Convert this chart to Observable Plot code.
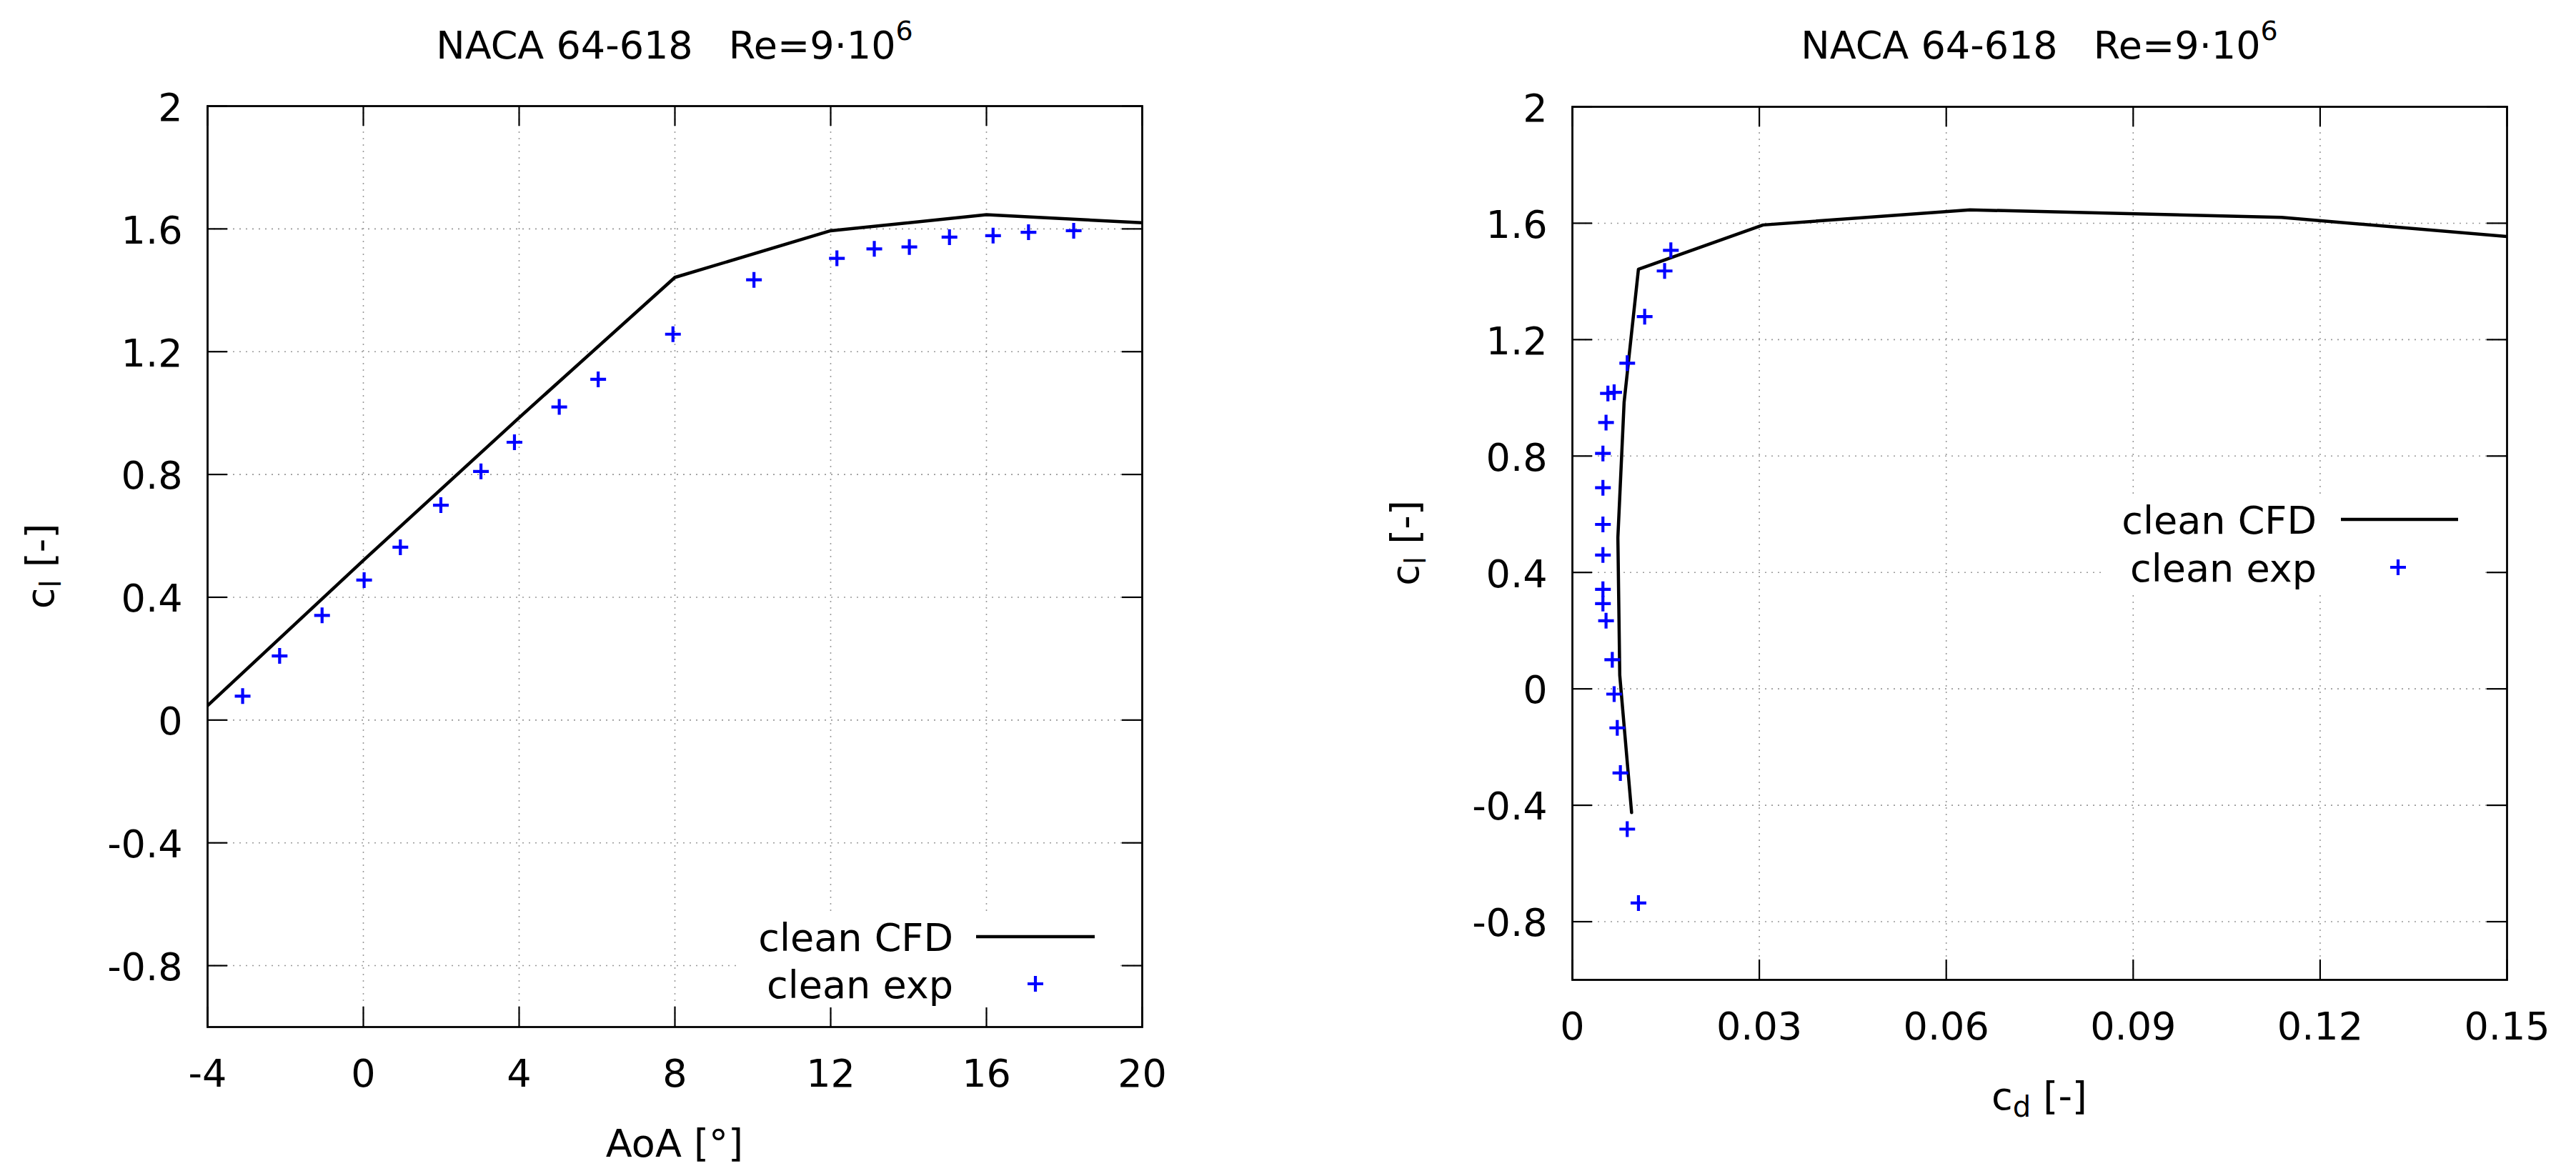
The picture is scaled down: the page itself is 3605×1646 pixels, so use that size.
<!DOCTYPE html>
<html>
<head>
<meta charset="utf-8">
<script src="https://cdn.jsdelivr.net/npm/d3@7"></script>
<script src="https://cdn.jsdelivr.net/npm/@observablehq/plot@0.6"></script>
<style>
  html, body { margin: 0; padding: 0; background: #fff; }
  #wrap { position: relative; width: 3605px; height: 1646px; overflow: hidden; background: #fff; }
  #wrap > svg { position: absolute; top: 0; }
</style>
</head>
<body>
<div id="wrap"></div>
<script>
// ---------------- data ----------------
const cfdAoA = [-8, -4, 0, 4, 8, 12, 16, 20, 24];
const cfdCl  = [-0.425, 0.047, 0.52, 0.985, 1.442, 1.594, 1.646, 1.62, 1.50];
const cfdCd  = [0.0095, 0.0076, 0.0073, 0.0083, 0.0106, 0.0306, 0.0638, 0.1138, 0.18];

const expAoA    = [-3.1, -2.15, -1.06, 0.02, 0.95, 1.99, 3.02, 3.88, 5.03, 6.03, 7.95, 10.03, 12.16, 13.12, 14.02, 15.05, 16.17, 17.08, 18.24];
const expClLift = [0.078, 0.209, 0.341, 0.456, 0.563, 0.70, 0.81, 0.905, 1.02, 1.11, 1.257, 1.434, 1.504, 1.535, 1.541, 1.573, 1.578, 1.589, 1.594];

const expClPolar = [-0.736, -0.482, -0.289, -0.134, -0.018, 0.100, 0.234, 0.293, 0.342, 0.460, 0.565, 0.691, 0.809, 0.915, 1.015, 1.019, 1.119, 1.279, 1.436, 1.507];
const expCdPolar = [0.0106, 0.0088, 0.0077, 0.0072, 0.0067, 0.0064, 0.0054, 0.0049, 0.0049, 0.0049, 0.0049, 0.0049, 0.0049, 0.0054, 0.0057, 0.0067, 0.0088, 0.0116, 0.0148, 0.0158];

const aoaTicks = [-4, 0, 4, 8, 12, 16, 20];
const cdTicks  = [0, 0.03, 0.06, 0.09, 0.12, 0.15];
const clTicks  = [-0.8, -0.4, 0, 0.4, 0.8, 1.2, 1.6, 2];

const titleMain = "NACA 64-618";
const titleRe = "Re=9·10";
const titleExp = "6";
const legendLine = "clean CFD";
const legendDots = "clean exp";

// ---------------- tables ----------------
const cfd = cfdAoA.map((a, i) => ({aoa: a, cl: cfdCl[i], cd: cfdCd[i]}));
const expLift = expAoA.map((a, i) => ({aoa: a, cl: expClLift[i]}));
const expPolar = expCdPolar.map((c, i) => ({cd: c, cl: expClPolar[i]}));

const FONT = "DejaVu Sans";
const FS = 54;
const LW = 4.5;     // CFD line width
const PW = 4.2;     // plus stroke width
const PR = 11;      // plus half-size
const plusSymbol = {
  draw(ctx, size) {
    const r = Math.sqrt(size / Math.PI);
    ctx.moveTo(-r, 0); ctx.lineTo(r, 0);
    ctx.moveTo(0, -r); ctx.lineTo(0, r);
  }
};
const fmt1 = d => String(+d.toFixed(1));
const fmt2 = d => String(+d.toFixed(2));

function panel({width, height, mt, mr, mb, ml, xKey, xDomain, xTicks, xFmt, exp}) {
  const pw = width - ml - mr, ph = height - mt - mb;
  const TL = 28;
  const grid = {stroke: "#999", strokeWidth: 1.6, strokeDasharray: "2,7"};
  const tick = {stroke: "black", strokeWidth: 2.2};
  const xInner = xTicks.filter(d => d > xDomain[0] && d < xDomain[1]);
  const yInner = clTicks.filter(d => d > -1 && d < 2);
  return Plot.plot({
    width, height,
    marginTop: mt, marginRight: mr, marginBottom: mb, marginLeft: ml,
    style: {fontFamily: FONT, fontSize: FS + "px", background: "white", color: "black"},
    x: {type: "linear", domain: xDomain},
    y: {type: "linear", domain: [-1, 2]},
    marks: [
      Plot.ruleX(xInner, {x: d => d, ...grid}),
      Plot.ruleY(yInner, {y: d => d, ...grid}),
      Plot.line(cfd, {x: xKey, y: "cl", stroke: "black", strokeWidth: LW, clip: true}),
      Plot.dot(exp, {x: xKey, y: "cl", symbol: plusSymbol, r: PR, fill: "none", stroke: "#0000ff", strokeWidth: PW, clip: true}),
      Plot.ruleX(xTicks, {x: d => d, insetTop: ph - TL, ...tick}),
      Plot.ruleX(xTicks, {x: d => d, insetBottom: ph - TL, ...tick}),
      Plot.ruleY(clTicks, {y: d => d, insetRight: pw - TL, ...tick}),
      Plot.ruleY(clTicks, {y: d => d, insetLeft: pw - TL, ...tick}),
      Plot.axisX(xTicks, {anchor: "bottom", tickSize: 0, tickPadding: 45, tickFormat: xFmt, label: null, fontSize: FS}),
      Plot.axisY(clTicks, {anchor: "left", tickSize: 0, tickPadding: 35, tickFormat: fmt1, label: null, fontSize: FS, dy: 3}),
      Plot.frame({stroke: "black", strokeWidth: 2.8})
    ]
  });
}

const wrap = document.getElementById("wrap");

const left = panel({width: 1800, height: 1646, mt: 148, mr: 202, mb: 209, ml: 290,
  xKey: "aoa", xDomain: [-4, 20], xTicks: aoaTicks, xFmt: fmt1, exp: expLift});
left.style.left = "0px";
wrap.appendChild(left);

const right = panel({width: 1805, height: 1646, mt: 149, mr: 97, mb: 275, ml: 400,
  xKey: "cd", xDomain: [0, 0.15], xTicks: cdTicks, xFmt: fmt2, exp: expPolar});
right.style.left = "1800px";
wrap.appendChild(right);

// ---------------- overlay: titles, axis labels, legends ----------------
const ov = d3.create("svg")
  .attr("width", 3605).attr("height", 1646)
  .attr("viewBox", "0 0 3605 1646")
  .style("left", "0px").style("pointer-events", "none")
  .attr("font-family", FONT).attr("font-size", FS).attr("fill", "black");

function title(cx, base) {
  const t = ov.append("text").attr("x", cx).attr("y", base).attr("text-anchor", "middle");
  t.append("tspan").text(titleMain);
  t.append("tspan").attr("dx", 50).text(titleRe);
  t.append("tspan").attr("font-size", 38).attr("dy", -26).text(titleExp);
}
title(944, 82);
title(2854, 82);

function subLabel(x, y, main, sub, tail, rotate) {
  const t = ov.append("text").attr("text-anchor", "middle")
    .attr("transform", `translate(${x},${y})` + (rotate ? " rotate(-90)" : ""));
  t.append("tspan").text(main);
  t.append("tspan").attr("font-size", 40).attr("dy", 10).text(sub);
  t.append("tspan").attr("dy", -10).style("white-space", "pre").text(tail);
}
subLabel(75, 792.5, "c", "l", " [-]", true);
subLabel(1985, 760, "c", "l", " [-]", true);
ov.append("text").attr("x", 944).attr("y", 1619).attr("text-anchor", "middle").text("AoA [°]");
subLabel(2854, 1553, "c", "d", " [-]", false);

function legend({bx0, bx1, by0, by1, textRight, r1, r2, lx1, lx2, px}) {
  ov.append("rect").attr("x", bx0).attr("y", by0).attr("width", bx1 - bx0).attr("height", by1 - by0).attr("fill", "white");
  ov.append("text").attr("x", textRight).attr("y", r1 + 20).attr("text-anchor", "end").text(legendLine);
  ov.append("text").attr("x", textRight).attr("y", r2 + 20).attr("text-anchor", "end").text(legendDots);
  ov.append("line").attr("x1", lx1).attr("x2", lx2).attr("y1", r1).attr("y2", r1)
    .attr("stroke", "black").attr("stroke-width", LW);
  ov.append("path").attr("d", `M${px - PR},${r2}H${px + PR}M${px},${r2 - PR}V${r2 + PR}`)
    .attr("stroke", "#0000ff").attr("stroke-width", PW).attr("fill", "none");
}
legend({bx0: 1030, bx1: 1563, by0: 1282, by1: 1410, textRight: 1334, r1: 1311, r2: 1377, lx1: 1366, lx2: 1532, px: 1449});
legend({bx0: 2940, bx1: 3475, by0: 695, by1: 827, textRight: 3242, r1: 727, r2: 794, lx1: 3276, lx2: 3440, px: 3356});

wrap.appendChild(ov.node());
</script>
</body>
</html>
